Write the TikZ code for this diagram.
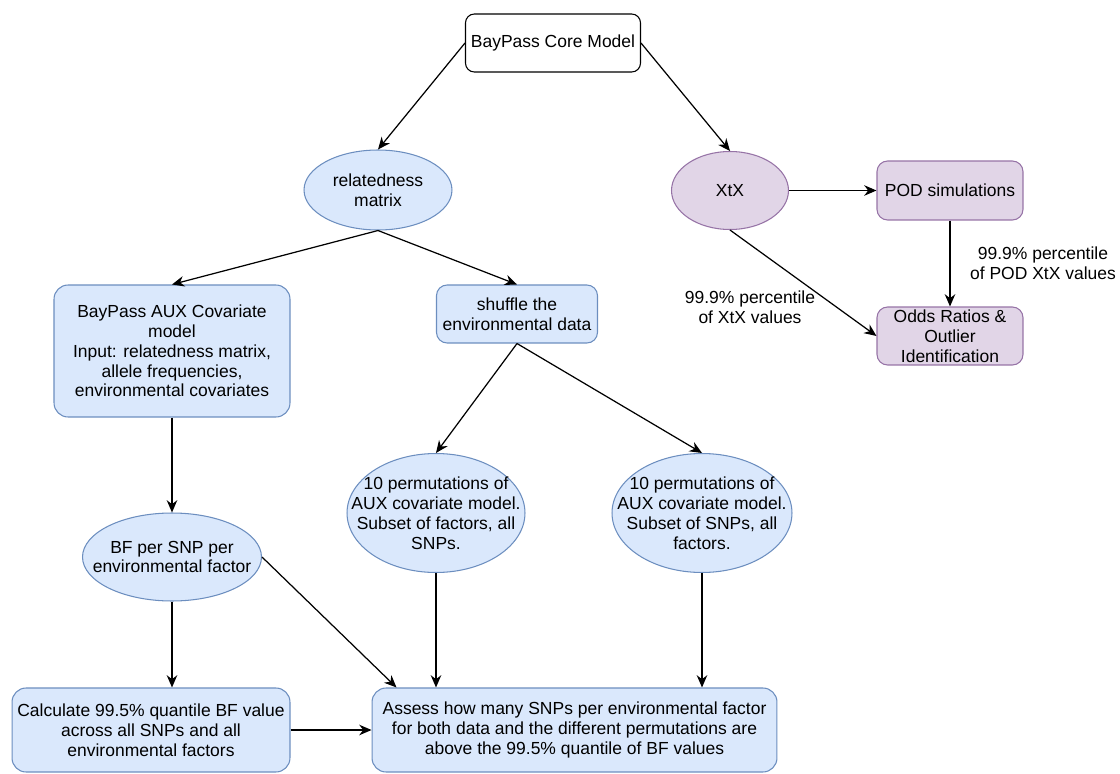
\documentclass[tikz,border=0pt]{standalone}
\usepackage{fontspec}
\setmainfont{Liberation Sans}
\usetikzlibrary{arrows.meta,shapes.geometric}
\definecolor{bfill}{HTML}{DAE8FC}
\definecolor{bdraw}{HTML}{6C8EBF}
\definecolor{pfill}{HTML}{E1D5E7}
\definecolor{pdraw}{HTML}{9673A6}
\tikzset{
 base/.style={font=\fontsize{9.95}{11.3}\selectfont, align=center, inner sep=0pt, line width=0.6pt},
 wbox/.style={base, rectangle, rounded corners=5pt, draw=black, fill=white},
 bbox/.style={base, rectangle, rounded corners=6pt, draw=bdraw, fill=bfill},
 pbox/.style={base, rectangle, rounded corners=6pt, draw=pdraw, fill=pfill},
 bell/.style={base, ellipse, draw=bdraw, fill=bfill},
 pell/.style={base, ellipse, draw=pdraw, fill=pfill},
 txt/.style={base},
 arr/.style={-{Stealth[length=7pt,width=6pt]}, line width=0.7pt}
}
\begin{document}
\begin{tikzpicture}[x=0.02cm,y=-0.02cm]
\useasboundingbox (0,0) rectangle (1120,774);
% nodes
\node[wbox, minimum width=3.5cm, minimum height=1.16cm] (core) at (553,43) {BayPass Core Model};
\node[bell, minimum width=2.96cm, minimum height=1.6cm] (rel) at (378,190) {};
\node[txt] (relt) at (rel) {relatedness\\matrix};
\node[bbox, minimum width=3.22cm, minimum height=1.16cm] (shuf) at (517,314) {shuffle the\\environmental data};
\node[bbox, rounded corners=8pt, minimum width=4.72cm, minimum height=2.64cm] (aux) at (172,351) {BayPass AUX Covariate\\model\\Input: relatedness matrix,\\allele frequencies,\\environmental covariates};
\node[pell, minimum width=2.34cm, minimum height=1.56cm] (xtx) at (730,190.5) {};
\node[txt] (xtxt) at (xtx) {XtX};
\node[pbox, minimum width=2.92cm, minimum height=1.18cm] (pod) at (950,190.5) {POD simulations};
\node[pbox, minimum width=2.92cm, minimum height=1.16cm] (odds) at (950,336) {Odds Ratios \&\\Outlier\\Identification};
\node[bell, minimum width=3.56cm, minimum height=2.38cm] (p1) at (436,513) {};
\node[txt] (p1t) at (p1) {10 permutations of\\AUX covariate model.\\Subset of factors, all\\SNPs.};
\node[bell, minimum width=3.6cm, minimum height=2.38cm] (p2) at (702,513) {};
\node[txt] (p2t) at (p2) {10 permutations of\\AUX covariate model.\\Subset of SNPs, all\\factors.};
\node[bell, minimum width=3.58cm, minimum height=1.76cm] (bf) at (172,557) {};
\node[txt] (bft) at (bf) {BF per SNP per\\environmental factor};
\node[bbox, rounded corners=8pt, minimum width=5.56cm, minimum height=1.68cm] (calc) at (151,730) {Calculate 99.5\% quantile BF value\\across all SNPs and all\\environmental factors};
\node[bbox, rounded corners=8pt, minimum width=8.1cm, minimum height=1.68cm] (assess) at (574.5,730) {Assess how many SNPs per environmental factor\\for both data and the different permutations are\\above the 99.5\% quantile of BF values};
% labels
\node[txt] (lab1) at (1043,263) {99.9\% percentile\\of POD XtX values};
\node[txt] (lab2) at (750,307) {99.9\% percentile\\of XtX values};
% edges
\draw[arr] (core.west) -- (rel.north);
\draw[arr] (core.east) -- (xtx.north);
\draw[arr] (rel.south) -- (aux.north);
\draw[arr] (rel.south) -- (shuf.north);
\draw[arr] (aux.south) -- (bf.north);
\draw[arr] (shuf.south) -- (p1.north);
\draw[arr] (shuf.south) -- (p2.north);
\draw[arr] (xtx.east) -- (pod.west);
\draw[arr] (pod.south) -- (odds.north);
\draw[arr] (xtx.south) -- (odds.west);
\draw[arr] (bf.south) -- (bf.south |- calc.north);
\draw[arr] (bf.east) -- ([xshift=0.5cm]assess.north west);
\draw[arr] (p1.south) -- (p1.south |- assess.north);
\draw[arr] (p2.south) -- (p2.south |- assess.north);
\draw[arr] (calc.east) -- (assess.west);
\end{tikzpicture}
\end{document}
